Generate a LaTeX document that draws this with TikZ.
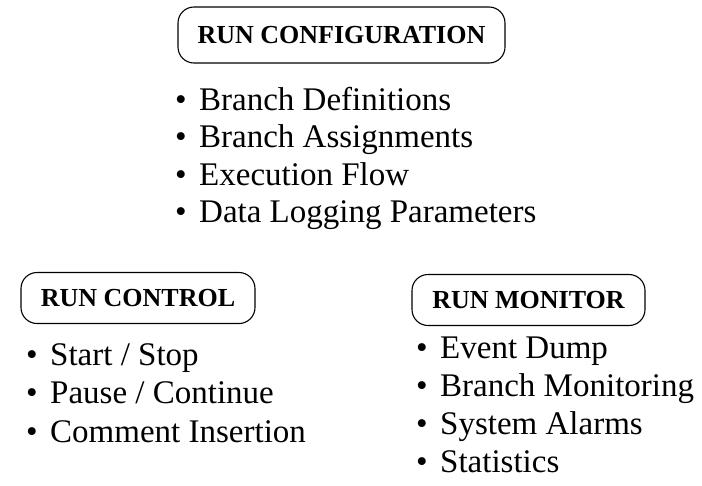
\documentclass[tikz,border=0pt]{standalone}
\usepackage{fontspec}
\setmainfont{Liberation Serif}
\usetikzlibrary{positioning}

\tikzset{
  head/.style={draw, line width=1.1pt, rounded corners=16pt, inner sep=0pt,
    font=\fontsize{26}{30}\selectfont\bfseries},
  item/.style={anchor=base west, inner sep=0pt, font=\fontsize{33}{36}\selectfont}
}
\newcommand{\bul}{\makebox[24pt][l]{\textbullet}}

\begin{document}
\begin{tikzpicture}[x=1pt,y=-1pt]
  \useasboundingbox (0,0) rectangle (702,485);

  % the three headings
  \node[head, minimum width=327pt, minimum height=56pt] (config) at (341.5,35) {RUN CONFIGURATION};
  \node[head, minimum width=234pt, minimum height=51pt] (control) at (138,298) {RUN CONTROL};
  \node[head, minimum width=233pt, minimum height=51pt] (monitor) at (528.5,300) {RUN MONITOR};

  % run configuration items
  \node[item] (c1) at (175,110) {\bul Branch Definitions};
  \node[item] (c2) at (175,147) {\bul Branch Assignments};
  \node[item] (c3) at (175,185) {\bul Execution Flow};
  \node[item] (c4) at (175,222) {\bul Data Logging Parameters};

  % run control items
  \node[item] (r1) at (26,365) {\bul Start / Stop};
  \node[item] (r2) at (26,403) {\bul Pause / Continue};
  \node[item] (r3) at (26,442) {\bul Comment Insertion};

  % run monitor items
  \node[item] (m1) at (416,358) {\bul Event Dump};
  \node[item] (m2) at (416,396) {\bul Branch Monitoring};
  \node[item] (m3) at (416,434) {\bul System Alarms};
  \node[item] (m4) at (416,472) {\bul Statistics};
\end{tikzpicture}
\end{document}
